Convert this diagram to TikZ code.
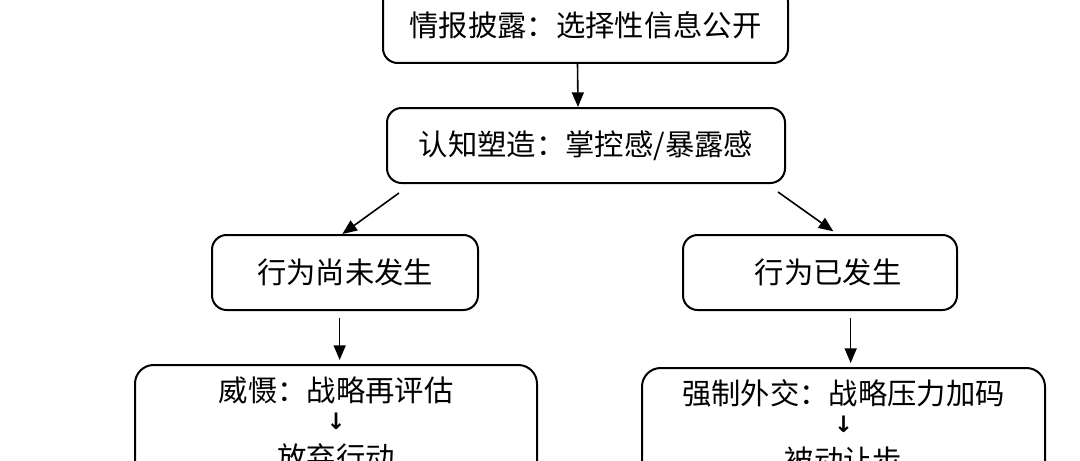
\documentclass[tikz,border=0pt]{standalone}
\usepackage{fontspec}
\setmainfont{Noto Sans CJK SC}
\newfontfamily\symfont{DejaVu Sans}
\usetikzlibrary{arrows.meta, positioning, calc}

\begin{document}
\begin{tikzpicture}[
  x=0.75pt, y=-0.75pt,
  every node/.style={font=\fontsize{22}{26}\selectfont},
  flowbox/.style={rectangle, rounded corners=11pt, draw=black, line width=1.5pt, align=center, inner sep=0pt, minimum height=56.25pt},
  outbox/.style={rectangle, rounded corners=14pt, draw=black, line width=1.5pt, align=center, anchor=north, inner xsep=0pt, inner ysep=9pt},
  flowarrow/.style={-{Triangle[length=11pt,width=9pt]}, line width=1.2pt},
]
\useasboundingbox (0,0) rectangle (1080,460);

\node[flowbox, minimum width=303.75pt, minimum height=57pt] (disclose) at (585.5,25) {情报披露：选择性信息公开};
\node[flowbox, minimum width=298.5pt] (shape) at (586,145.5) {认知塑造：掌控感/暴露感};
\node[flowbox, minimum width=199.5pt] (notyet) at (345,272.5) {行为尚未发生};
\node[flowbox, minimum width=205.5pt] (done) at (820,272.5) {\hspace*{12pt}行为已发生};
\node[outbox, minimum width=301.5pt] (deter) at (336,364) {威慑：战略再评估\\[-5pt]{\symfont\bfseries\fontsize{17}{12}\selectfont ↓}\\[3pt]放弃行动};
\node[outbox, minimum width=302.25pt] (force) at (843.5,367) {强制外交：战略压力加码\\[-5pt]{\symfont\bfseries\fontsize{17}{12}\selectfont ↓}\\[3pt]被动让步};

\draw[flowarrow] ([xshift=-6pt]disclose.south) -- ([xshift=-6pt]shape.north);
\draw[flowarrow] ([xshift=9.75pt, yshift=-6.75pt]shape.south west) -- ([xshift=-2pt]notyet.north);
\draw[flowarrow] ([xshift=-6pt, yshift=-6pt]shape.south east) -- ([xshift=10pt, yshift=2pt]done.north);
\draw[flowarrow, shorten <=5pt, shorten >=3pt] ([xshift=-4pt]notyet.south) -- ([xshift=-4pt]notyet.south |- deter.north);
\draw[flowarrow, shorten <=5pt, shorten >=3pt] ([xshift=23pt]done.south) -- ([xshift=23pt]done.south |- force.north);
\end{tikzpicture}
\end{document}
